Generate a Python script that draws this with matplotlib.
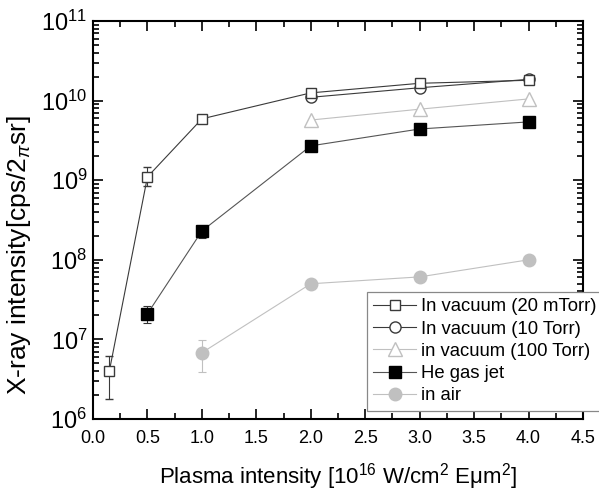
import matplotlib
matplotlib.use("Agg")
import matplotlib.pyplot as plt
from matplotlib.lines import Line2D
from matplotlib.ticker import MultipleLocator, LogLocator, FixedLocator, NullFormatter

plt.rcParams['font.family'] = ['Liberation Sans', 'DejaVu Sans']
plt.rcParams['mathtext.fontset'] = 'custom'
plt.rcParams['mathtext.rm'] = 'Liberation Sans'
plt.rcParams['mathtext.it'] = 'Liberation Sans:italic'
plt.rcParams['mathtext.sf'] = 'Liberation Sans'

# Data
x_20m = [0.15, 0.5, 1.0, 2.0, 3.0, 4.0]
y_20m = [4.0e6, 1.1e9, 5.9e9, 1.25e10, 1.65e10, 1.8e10]
err_lo_20m = [2.2e6, 2.6e8, 3e8, 5e8, 6e8, 6e8]
err_hi_20m = [2.1e6, 3.5e8, 3e8, 5e8, 6e8, 6e8]

x_10T = [2.0, 3.0, 4.0]
y_10T = [1.1e10, 1.45e10, 1.85e10]

x_100T = [2.0, 3.0, 4.0]
y_100T = [5.7e9, 7.8e9, 1.05e10]

x_he = [0.5, 1.0, 2.0, 3.0, 4.0]
y_he = [2.1e7, 2.3e8, 2.7e9, 4.4e9, 5.4e9]
err_lo_he = [0.5e7, 0.4e8, 2e8, 2e8, 2e8]
err_hi_he = [0.5e7, 0.3e8, 2e8, 2e8, 2e8]

x_air = [1.0, 2.0, 3.0, 4.0]
y_air = [6.8e6, 5.0e7, 6.1e7, 1.0e8]
err_lo_air = [2.9e6, 2e6, 2e6, 3e6]
err_hi_air = [2.9e6, 2e6, 2e6, 3e6]

labels = ["In vacuum (20 mTorr)", "In vacuum (10 Torr)", "in vacuum (100 Torr)",
          "He gas jet", "in air"]
xticks = [0.0, 0.5, 1.0, 1.5, 2.0, 2.5, 3.0, 3.5, 4.0, 4.5]

fig = plt.figure(figsize=(5.99, 4.92), dpi=100)
ax = fig.add_axes([93/599, 1-419/492, 490/599, 398/492])

dark = '#3a3a3a'
light = '#c0c0c0'

st_20m = dict(color=dark, lw=0.8, marker='s', ms=7.5, mfc='white', mec=dark, mew=1.0)
st_10T = dict(color=dark, lw=0.8, marker='o', ms=8, mfc='white', mec=dark, mew=1.0)
st_100T = dict(color=light, lw=0.8, marker='^', ms=10, mfc='white', mec=light, mew=1.0)
st_he = dict(color='#555555', lw=0.8, marker='s', ms=8, mfc='black', mec='black')
st_air = dict(color=light, lw=0.8, marker='o', ms=9, mfc=light, mec=light)

ax.errorbar(x_20m, y_20m, yerr=[err_lo_20m, err_hi_20m], ecolor=dark, elinewidth=0.8,
            capsize=3, capthick=0.8, zorder=3, **st_20m)
ax.plot(x_10T, y_10T, zorder=3, **st_10T)
ax.plot(x_100T, y_100T, zorder=2, **st_100T)
ax.errorbar(x_he, y_he, yerr=[err_lo_he, err_hi_he], ecolor='#333333', elinewidth=0.8,
            capsize=3, capthick=0.8, zorder=3, **st_he)
ax.errorbar(x_air, y_air, yerr=[err_lo_air, err_hi_air], ecolor=light, elinewidth=0.8,
            capsize=3, capthick=0.8, zorder=2, **st_air)

ax.set_yscale('log')
ax.set_xlim(0, 4.5)
ax.set_ylim(1e6, 1e11)
ax.xaxis.set_major_locator(FixedLocator(xticks))
ax.set_xticklabels([f"{v:.1f}" for v in xticks])
ax.xaxis.set_minor_locator(MultipleLocator(0.25))
ax.yaxis.set_major_locator(LogLocator(base=10, numticks=10))
ax.yaxis.set_minor_locator(LogLocator(base=10, subs=range(2, 10), numticks=20))
ax.yaxis.set_minor_formatter(NullFormatter())

ax.tick_params(which='both', direction='in', top=True, right=True, width=1.2)
ax.tick_params(which='major', length=7)
ax.tick_params(which='minor', length=4)
ax.tick_params(axis='x', labelsize=13, pad=8)
ax.tick_params(axis='y', labelsize=17, pad=4)
for s in ax.spines.values():
    s.set_linewidth(1.5)

ax.set_xlabel("Plasma intensity [10$^{16}$ W/cm$^{2}$ Eμm$^{2}$]", fontsize=16, labelpad=10)
ax.set_ylabel("X-ray intensity[cps/2$_{\\pi}$sr]", fontsize=19)
ax.yaxis.set_label_coords((33-93)/490, (419-255)/398)

handles = [Line2D([], [], **st) for st in (st_20m, st_10T, st_100T, st_he, st_air)]
leg = fig.legend(handles, labels, loc='upper left', bbox_to_anchor=(367/599, 1-292/492),
                 fontsize=13.3, frameon=True, fancybox=False, edgecolor='#888888',
                 framealpha=1.0, facecolor='white',
                 handlelength=2.3, handletextpad=0.27, labelspacing=0.28,
                 borderpad=0.35, borderaxespad=0)
leg.get_frame().set_linewidth(0.9)
leg.set_zorder(10)

fig.savefig("out.png", dpi=100)
